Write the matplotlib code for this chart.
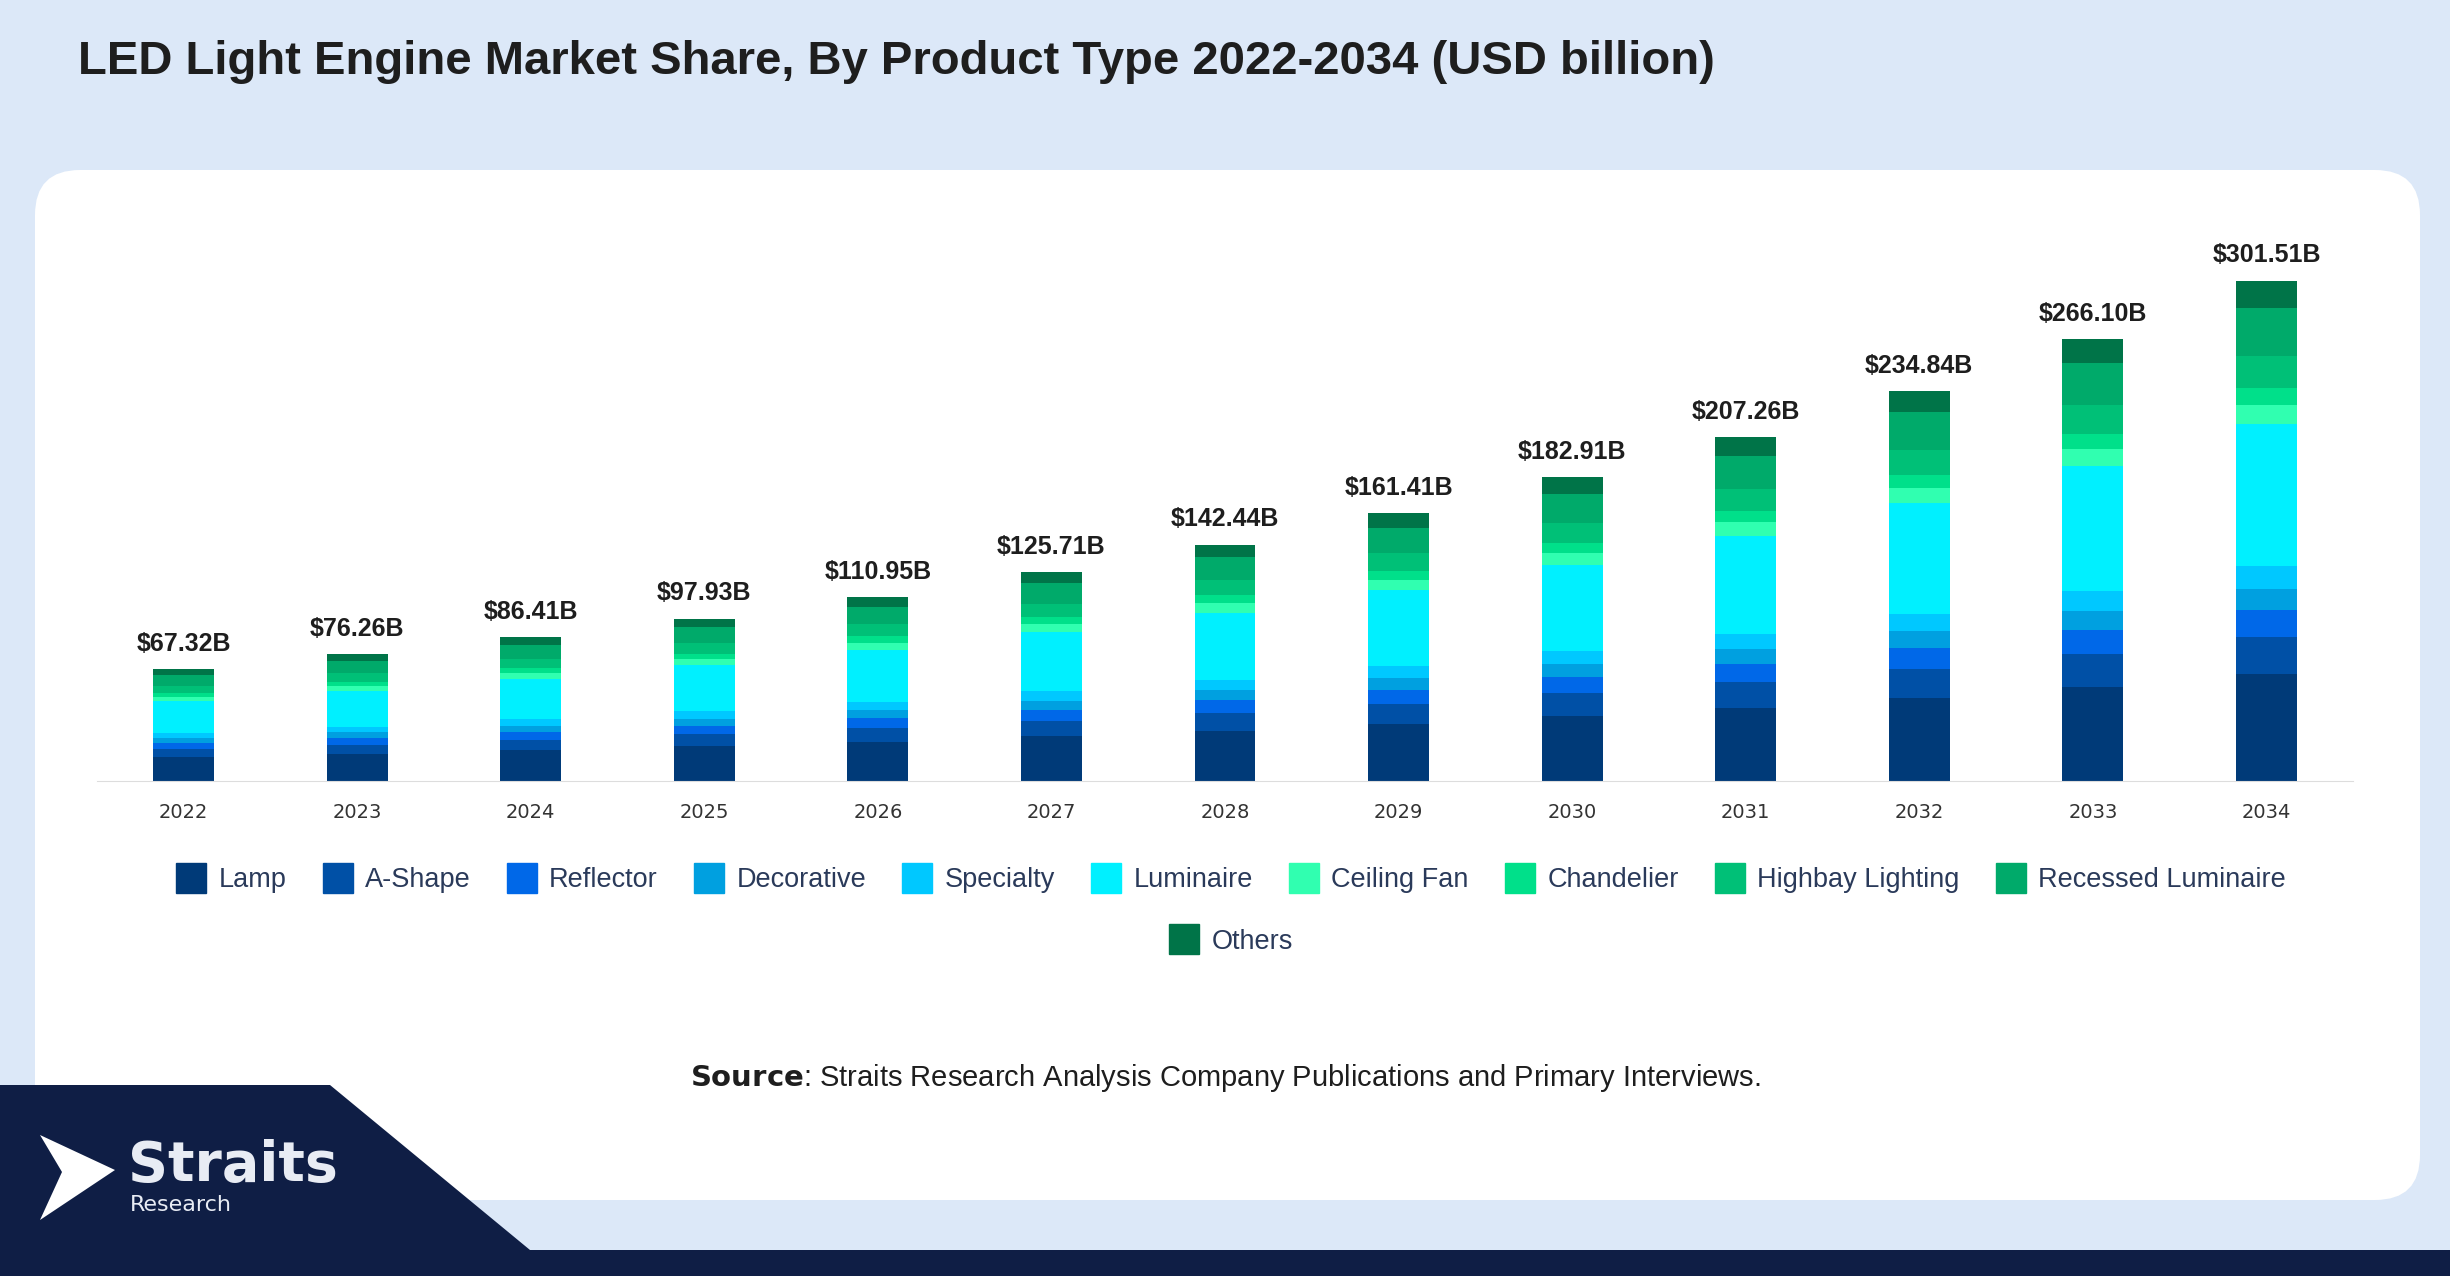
import numpy as np
import matplotlib.pyplot as plt
from matplotlib.patches import FancyBboxPatch, Polygon
from matplotlib.lines import Line2D

years = ['2022', '2023', '2024', '2025', '2026', '2027', '2028', '2029', '2030', '2031', '2032', '2033', '2034']
totals = [67.32, 76.26, 86.41, 97.93, 110.95, 125.71, 142.44, 161.41, 182.91, 207.26, 234.84, 266.10, 301.51]

lamp = [14.3, 16.2, 18.4, 20.9, 23.6, 26.8, 30.3, 34.4, 39.0, 44.1, 50.0, 56.7, 64.2]
a_shape = [5.0, 5.7, 6.5, 7.3, 8.3, 9.4, 10.7, 12.1, 13.7, 15.5, 17.6, 20.0, 22.6]
reflector = [3.6, 4.0, 4.6, 5.2, 5.9, 6.7, 7.5, 8.6, 9.7, 11.0, 12.4, 14.1, 16.0]
decorative = [2.9, 3.3, 3.7, 4.2, 4.8, 5.4, 6.1, 6.9, 7.9, 8.9, 10.1, 11.4, 13.0]
specialty = [3.0, 3.4, 3.9, 4.4, 5.0, 5.7, 6.4, 7.3, 8.2, 9.3, 10.6, 12.0, 13.6]
luminaire = [19.1, 21.7, 24.5, 27.8, 31.5, 35.7, 40.5, 45.8, 51.9, 58.9, 66.7, 75.6, 85.6]
ceiling_fan = [2.6, 3.0, 3.4, 3.8, 4.3, 4.9, 5.6, 6.3, 7.1, 8.1, 9.2, 10.4, 11.8]
chandelier = [2.2, 2.5, 2.9, 3.2, 3.7, 4.1, 4.7, 5.3, 6.0, 6.8, 7.7, 8.8, 9.9]
highbay = [4.4, 5.0, 5.6, 6.4, 7.2, 8.2, 9.3, 10.5, 11.9, 13.5, 15.3, 17.3, 19.6]
recessed = [6.5, 7.3, 8.3, 9.4, 10.7, 12.1, 13.7, 15.5, 17.6, 19.9, 22.5, 25.5, 28.9]
others = [3.6, 4.1, 4.7, 5.3, 6.0, 6.8, 7.7, 8.7, 9.9, 11.2, 12.7, 14.4, 16.3]

series = [
    ('Lamp', lamp, '#003a78'),
    ('A-Shape', a_shape, '#0050a6'),
    ('Reflector', reflector, '#0068e8'),
    ('Decorative', decorative, '#00a0e0'),
    ('Specialty', specialty, '#00c8ff'),
    ('Luminaire', luminaire, '#00f0ff'),
    ('Ceiling Fan', ceiling_fan, '#30ffb0'),
    ('Chandelier', chandelier, '#00e08a'),
    ('Highbay Lighting', highbay, '#00c077'),
    ('Recessed Luminaire', recessed, '#00aa6a'),
    ('Others', others, '#007448'),
]

W, H = 2450, 1276
fig = plt.figure(figsize=(24.5, 12.76), dpi=100, facecolor='#dce8f8')

# background pieces
bg = fig.add_axes([0, 0, 1, 1])
bg.set_xlim(0, W)
bg.set_ylim(H, 0)
bg.axis('off')
bg.add_patch(FancyBboxPatch((35, 170), 2385, 1030, boxstyle='round,pad=0,rounding_size=45',
                            fc='white', ec='none'))
bg.add_patch(Polygon([[0, H], [0, 1085], [330, 1085], [530, 1250], [2450, 1250], [2450, H]],
                     closed=True, fc='#0f1e45', ec='none'))
bg.text(78, 62, 'LED Light Engine Market Share, By Product Type 2022-2034 (USD billion)',
        fontsize=34, fontweight='bold', color='#1e1e1e', va='center', family='Liberation Sans')
bg.text(1225, 1078, r'$\bf{Source}$: Straits Research Analysis Company Publications and Primary Interviews.',
        fontsize=21, ha='center', va='center', color='#1e1e1e', family='Liberation Sans')
bg.add_patch(Polygon([[40, 1135], [115, 1170], [40, 1220], [62, 1172]], closed=True, fc='white', ec='none'))
bg.text(128, 1166, 'Straits', fontsize=40, fontweight='bold', color='#e8ecf4', va='center')
bg.text(130, 1205, 'Research', fontsize=16, color='#e8ecf4', va='center')

ax = fig.add_axes([0.0395, 0.388, 0.921, 0.392])
x = np.arange(len(years))
bottom = np.zeros(len(years))
for name, vals, col in series:
    ax.bar(x, vals, 0.35, bottom=bottom, color=col, label=name)
    bottom += np.array(vals)
for xi, t in zip(x, totals):
    ax.text(xi, t + 8, f'${t:.2f}B', ha='center', va='bottom', fontsize=18, fontweight='bold',
            color='#1e1e1e', family='Liberation Sans')
ax.set_xlim(-0.5, len(years) - 0.5)
ax.set_ylim(0, 301.51)
ax.set_xticks(x, years)
ax.set_yticks([])
ax.tick_params(axis='x', length=0, labelsize=14, colors='#333333', pad=16)
for s in ['top', 'right', 'left']:
    ax.spines[s].set_visible(False)
ax.spines['bottom'].set_color('#dddddd')
ax.set_facecolor('none')

handles = [Line2D([], [], marker='s', ls='none', ms=22, color=c) for _, _, c in series]
names = [n for n, _, _ in series]
legkw = dict(frameon=False, handletextpad=0.0, columnspacing=0.9, labelcolor='#2a3a5a',
             prop={'family': 'Liberation Sans', 'size': 19.5})
fig.legend(handles[:10], names[:10], loc='center', bbox_to_anchor=(0.5, 0.31), ncol=10, **legkw)
fig.legend(handles[10:], names[10:], loc='center', bbox_to_anchor=(0.5, 0.262), ncol=1, **legkw)

fig.savefig('out.png', dpi=100, facecolor=fig.get_facecolor())
